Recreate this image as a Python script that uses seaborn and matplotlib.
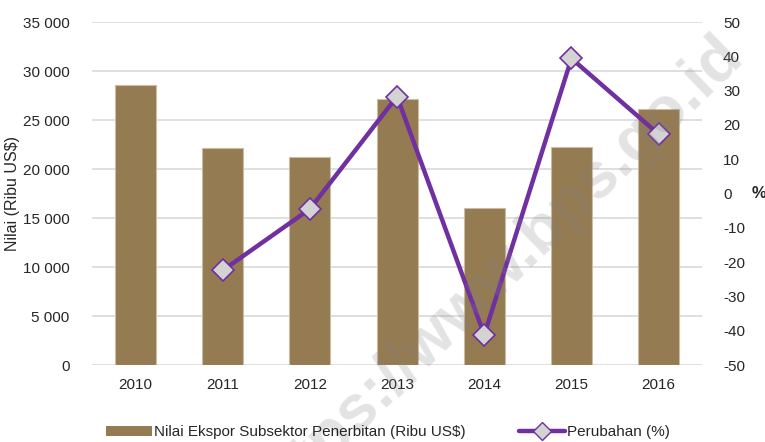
import numpy as np
import pandas as pd
import matplotlib
matplotlib.use('Agg')
import matplotlib.pyplot as plt
import seaborn as sns
from matplotlib.ticker import FuncFormatter, MultipleLocator
from matplotlib.lines import Line2D
from matplotlib.patches import Patch

# data
years = ['2010', '2011', '2012', '2013', '2014', '2015', '2016']
ekspor = [28600, 22200, 21200, 27200, 16000, 22300, 26150]
perubahan_years = ['2011', '2012', '2013', '2014', '2015', '2016']
perubahan = [-22.4, -4.5, 28.3, -41.2, 39.4, 17.3]

bar_color = '#957B52'
line_color = '#7030A0'

sns.set_theme(style='white')
plt.rcParams['font.family'] = ['Liberation Sans', 'DejaVu Sans']

fig = plt.figure(figsize=(7.65, 4.42), dpi=100)
ax = fig.add_axes([0.120, 0.174, 0.798, 0.776])

df = pd.DataFrame({'tahun': years, 'nilai': ekspor})
sns.barplot(data=df, x='tahun', y='nilai', order=years, color=bar_color,
            saturation=1, width=0.47, edgecolor='#cbbd9f', linewidth=0.8, ax=ax)

ax.set_ylim(0, 35000)
ax.set_xlim(-0.5, len(years) - 0.5)
ax.yaxis.set_major_locator(MultipleLocator(5000))
ax.yaxis.set_major_formatter(FuncFormatter(lambda v, p: f'{int(v):,}'.replace(',', ' ')))
ax.grid(axis='y', color='#d9d9d9', linewidth=1.2)
ax.set_axisbelow(True)
ax.set_xlabel('')
ax.set_ylabel('Nilai (Ribu US$)', fontsize=11.5, labelpad=2)
ax.tick_params(axis='y', length=0, pad=16, labelsize=11)
ax.tick_params(axis='x', length=0, pad=9, labelsize=11)
for s in ax.spines.values():
    s.set_visible(False)

ax2 = ax.twinx()
pos = [years.index(y) for y in perubahan_years]
line_df = pd.DataFrame({'pos': pos, 'pct': perubahan})
sns.lineplot(data=line_df, x='pos', y='pct', color=line_color, linewidth=3.2,
             marker='D', markersize=11, markerfacecolor='#d3d3d3',
             markeredgecolor=line_color, markeredgewidth=1.2, ax=ax2)
ax2.set_ylim(-50, 50)
ax2.yaxis.set_major_locator(MultipleLocator(10))
ax2.yaxis.set_major_formatter(FuncFormatter(lambda v, p: f'{int(round(v))}'))
ax2.tick_params(axis='y', length=0, pad=15, labelsize=11)
ax2.set_ylabel('%', rotation=0, fontsize=12, fontweight='bold', labelpad=10, va='center')
ax2.set_xlabel('')
ax2.grid(False)
for s in ax2.spines.values():
    s.set_visible(False)
ax2.set_xlim(-0.5, len(years) - 0.5)

handles = [Patch(facecolor=bar_color, edgecolor='none'),
           Line2D([0], [0], color=line_color, linewidth=3.2, marker='D', markersize=9,
                  markerfacecolor='#d3d3d3', markeredgecolor=line_color)]
labels = ['Nilai Ekspor Subsektor Penerbitan (Ribu US$)', 'Perubahan (%)']
fig.legend(handles, labels, loc='lower center', bbox_to_anchor=(0.507, -0.025), ncol=2,
           frameon=False, fontsize=11, handlelength=3.0, handletextpad=0.15,
           columnspacing=3.5)

# watermark
fig.text(0.647, 0.378, 'https://www.bps.go.id', fontsize=46, fontweight='bold',
         color='#808080', alpha=0.22, rotation=44, ha='center', va='center')

fig.savefig('out.png', dpi=100)
